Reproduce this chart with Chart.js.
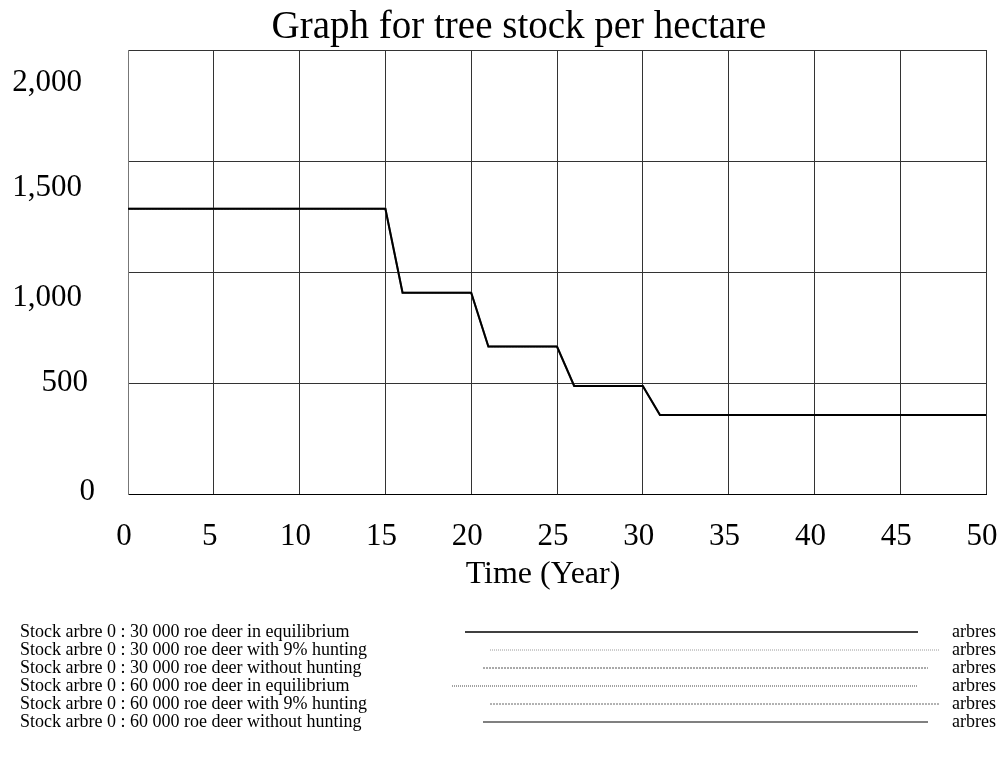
<!DOCTYPE html>
<html>
<head>
<meta charset="utf-8">
<script src="https://cdn.jsdelivr.net/npm/chart.js@4/dist/chart.umd.min.js"></script>
<style>
  html, body { margin: 0; padding: 0; background: #ffffff; }
  #wrap { width: 998px; height: 760px; position: relative; }
</style>
</head>
<body>
<div id="wrap"><canvas id="c" width="998" height="760"></canvas></div>
<script>
// ---- Data ----
const years = [];
for (let y = 0; y <= 50; y++) years.push(y);

const chartTitle = "Graph for tree stock per hectare";
const xAxisTitle = "Time (Year)";
const unitLabel = "arbres";
const yTicks = [0, 500, 1000, 1500, 2000];
const xTicks = [0, 5, 10, 15, 20, 25, 30, 35, 40, 45, 50];

const seriesLabels = [
  "Stock arbre 0 : 30 000 roe deer in equilibrium",
  "Stock arbre 0 : 30 000 roe deer with 9% hunting",
  "Stock arbre 0 : 30 000 roe deer without hunting",
  "Stock arbre 0 : 60 000 roe deer in equilibrium",
  "Stock arbre 0 : 60 000 roe deer with 9% hunting",
  "Stock arbre 0 : 60 000 roe deer without hunting"
];

// All six runs coincide on the picture (one visible stepped line)
const stock30kEquilibrium = [1285,1285,1285,1285,1285,1285,1285,1285,1285,1285,1285,1285,1285,1285,1285,1285,907,907,907,907,907,664,664,664,664,664,487,487,487,487,487,356,356,356,356,356,356,356,356,356,356,356,356,356,356,356,356,356,356,356,356];
const stock30kHunting9 = [1285,1285,1285,1285,1285,1285,1285,1285,1285,1285,1285,1285,1285,1285,1285,1285,907,907,907,907,907,664,664,664,664,664,487,487,487,487,487,356,356,356,356,356,356,356,356,356,356,356,356,356,356,356,356,356,356,356,356];
const stock30kNoHunting = [1285,1285,1285,1285,1285,1285,1285,1285,1285,1285,1285,1285,1285,1285,1285,1285,907,907,907,907,907,664,664,664,664,664,487,487,487,487,487,356,356,356,356,356,356,356,356,356,356,356,356,356,356,356,356,356,356,356,356];
const stock60kEquilibrium = [1285,1285,1285,1285,1285,1285,1285,1285,1285,1285,1285,1285,1285,1285,1285,1285,907,907,907,907,907,664,664,664,664,664,487,487,487,487,487,356,356,356,356,356,356,356,356,356,356,356,356,356,356,356,356,356,356,356,356];
const stock60kHunting9 = [1285,1285,1285,1285,1285,1285,1285,1285,1285,1285,1285,1285,1285,1285,1285,1285,907,907,907,907,907,664,664,664,664,664,487,487,487,487,487,356,356,356,356,356,356,356,356,356,356,356,356,356,356,356,356,356,356,356,356];
const stock60kNoHunting = [1285,1285,1285,1285,1285,1285,1285,1285,1285,1285,1285,1285,1285,1285,1285,1285,907,907,907,907,907,664,664,664,664,664,487,487,487,487,487,356,356,356,356,356,356,356,356,356,356,356,356,356,356,356,356,356,356,356,356];

const seriesValues = [stock30kEquilibrium, stock30kHunting9, stock30kNoHunting,
                      stock60kEquilibrium, stock60kHunting9, stock60kNoHunting];

// ---- Styles ----
const FONT = "'Liberation Serif', 'Times New Roman', serif";
const seriesStyles = [
  { color: '#000000', width: 2,   dash: [],     x0: 465, x1: 918 },
  { color: '#9a9a9a', width: 1,   dash: [1, 1], x0: 490, x1: 940 },
  { color: '#555555', width: 1,   dash: [2, 1], x0: 483, x1: 928 },
  { color: '#444444', width: 1,   dash: [1, 1], x0: 452, x1: 918 },
  { color: '#666666', width: 1,   dash: [2, 1], x0: 490, x1: 940 },
  { color: '#808080', width: 2,   dash: [],     x0: 483, x1: 928 }
];

// Chart.js draws dataset 0 last (on top): the solid black run stays visible
const datasets = seriesValues.map((vals, i) => ({
  label: seriesLabels[i],
  data: vals.map((v, k) => ({ x: years[k], y: v })),
  borderColor: seriesStyles[i].color,
  borderWidth: seriesStyles[i].width,
  borderDash: seriesStyles[i].dash,
  pointRadius: 0,
  tension: 0,
  fill: false
}));

// y tick labels and x-axis title, placed like the reference
const yLabelShift = { 0: [33, -2], 500: [40, 0], 1000: [46, 26], 1500: [46, 27], 2000: [46, 33] };
const axisTextPlugin = {
  id: 'axisText',
  afterDraw(chart) {
    const ctx = chart.ctx;
    const ys = chart.scales.y;
    const xs = chart.scales.x;
    const area = chart.chartArea;
    ctx.save();
    ctx.fillStyle = '#000';
    ctx.textBaseline = 'middle';
    ctx.font = "31px " + FONT;
    ctx.textAlign = 'right';
    yTicks.forEach(v => {
      const sh = yLabelShift[v];
      ctx.fillText(v.toLocaleString('en-US'), area.left - sh[0], ys.getPixelForValue(v) + sh[1]);
    });
    ctx.font = "32px " + FONT;
    ctx.textAlign = 'center';
    ctx.fillText(xAxisTitle, (area.left + area.right) / 2 - 14, xs.bottom - 19);
    ctx.restore();
  }
};

const legendPlugin = {
  id: 'bottomLegend',
  afterDraw(chart) {
    const ctx = chart.ctx;
    ctx.save();
    ctx.font = "18px " + FONT;
    ctx.fillStyle = '#000';
    ctx.textBaseline = 'middle';
    seriesLabels.forEach((lab, i) => {
      const y = 632 + i * 18;
      const st = seriesStyles[i];
      ctx.textAlign = 'left';
      ctx.fillText(lab, 20, y);
      ctx.beginPath();
      ctx.strokeStyle = st.color;
      ctx.lineWidth = i === 0 ? 1.5 : st.width;
      ctx.setLineDash(st.dash);
      ctx.moveTo(st.x0, y);
      ctx.lineTo(st.x1, y);
      ctx.stroke();
      ctx.setLineDash([]);
      ctx.textAlign = 'right';
      ctx.fillText(unitLabel, 996, y);
    });
    ctx.restore();
  }
};

new Chart(document.getElementById('c'), {
  type: 'line',
  data: { datasets },
  options: {
    responsive: false,
    animation: false,
    layout: { padding: { left: 40, right: 0, top: 0, bottom: 166 } },
    plugins: {
      legend: { display: false },
      tooltip: { enabled: false },
      title: {
        display: true,
        text: chartTitle,
        color: '#000',
        font: { family: FONT, size: 39, weight: 'normal', lineHeight: 1.0 },
        padding: { top: 8, bottom: 3 }
      }
    },
    scales: {
      x: {
        type: 'linear',
        min: 0, max: 50,
        afterBuildTicks: (s) => { s.ticks = xTicks.map(v => ({ value: v })); },
        afterFit: (s) => { s.height = 100; s.paddingRight = 12; s.paddingLeft = 0; },
        ticks: {
          color: '#000',
          font: { family: FONT, size: 31 },
          padding: 24,
          labelOffset: -4,
          maxRotation: 0,
          autoSkip: false
        },
        grid: { color: '#333', lineWidth: 1, drawTicks: false },
        border: { color: '#000', width: 1 },
        title: { display: false }
      },
      y: {
        min: 0, max: 2000,
        afterBuildTicks: (s) => { s.ticks = yTicks.map(v => ({ value: v })); },
        afterFit: (s) => { s.width = 88; },
        ticks: { display: false },
        grid: { color: '#333', lineWidth: 1, drawTicks: false },
        border: { color: '#777', width: 1 }
      }
    }
  },
  plugins: [axisTextPlugin, legendPlugin]
});
</script>
</body>
</html>
